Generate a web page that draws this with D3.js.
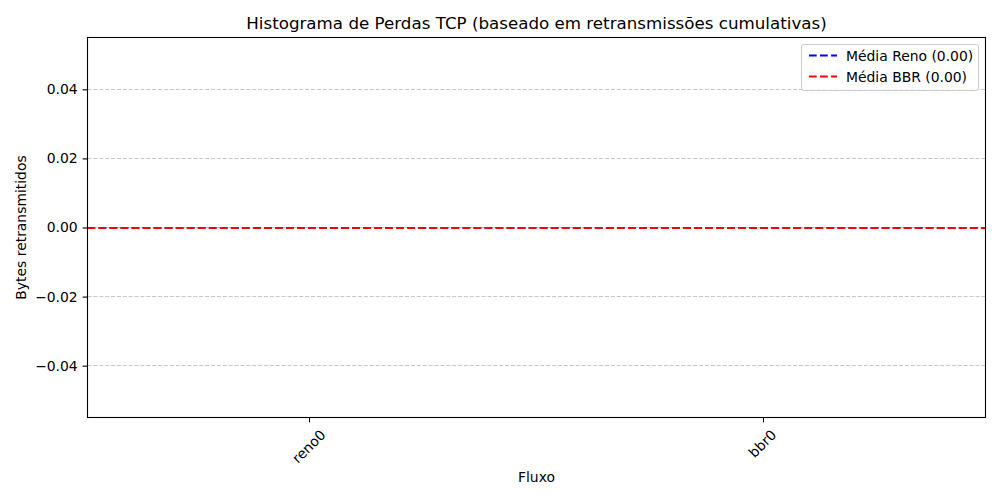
<!DOCTYPE html>
<html><head><meta charset="utf-8">
<script src="https://cdn.jsdelivr.net/npm/d3@7"></script>
<style>body{margin:0;background:#fff}svg{display:block;font-family:"DejaVu Sans",sans-serif}</style>
</head><body><svg id="c" width="1000" height="500"></svg>
<script>
const categories = ["reno0", "bbr0"];
const values = [0, 0];
const yTicks = [-0.04, -0.02, 0.00, 0.02, 0.04];
const meanReno = 0.00;
const meanBBR = 0.00;
const legendLabels = ["Média Reno (0.00)", "Média BBR (0.00)"];
const legendColors = ["blue", "red"];
const title = "Histograma de Perdas TCP (baseado em retransmissões cumulativas)";

const svg = d3.select("#c");
const L = 87.5, R = 985.5, T = 37.5, B = 417.5;
const x = d3.scaleLinear().domain([-0.49, 1.49]).range([L, R]);
const y = d3.scaleLinear().domain([-0.055, 0.055]).range([B, T]);
const snap = v => Math.round(v - 0.5) + 0.5;

// grid
svg.append("g").selectAll("line").data(yTicks).join("line")
  .attr("x1", L).attr("x2", R).attr("y1", d => snap(y(d))).attr("y2", d => snap(y(d)))
  .attr("stroke", "#b0b0b0").attr("stroke-opacity", 0.7).attr("stroke-width", 1.11)
  .attr("stroke-dasharray", "4.1,1.78");

// bars
svg.append("g").selectAll("rect").data(values).join("rect")
  .attr("x", (d, i) => x(i - 0.4)).attr("width", x(0.4) - x(-0.4))
  .attr("y", d => y(Math.max(0, d))).attr("height", d => Math.abs(y(d) - y(0)))
  .attr("fill", "#1f77b4");

// mean lines
[meanReno, meanBBR].forEach((m, i) => {
  const yy = Math.round(y(m));
  svg.append("line").attr("x1", L).attr("x2", R).attr("y1", yy).attr("y2", yy)
    .attr("stroke", legendColors[i]).attr("stroke-width", 2.08).attr("stroke-dasharray", "7.7,3.33");
});

// spines
svg.append("rect").attr("x", L).attr("y", T).attr("width", R - L).attr("height", B - T)
  .attr("fill", "none").attr("stroke", "#000").attr("stroke-width", 1.1);

// y axis
const yAxis = svg.append("g").attr("transform", `translate(${L},0)`)
  .call(d3.axisLeft(y).tickValues(yTicks).tickSize(4.9).tickPadding(4.9)
    .tickFormat(d => (d < 0 ? "\u2212" : "") + Math.abs(d).toFixed(2)));
yAxis.select(".domain").remove();
yAxis.selectAll("text").attr("font-size", 13.9).attr("fill", "#000").attr("font-family", "DejaVu Sans");
yAxis.selectAll("line").attr("stroke-width", 1.1);

// x axis
const xg = svg.append("g").attr("transform", `translate(0,${B})`);
xg.selectAll("line").data(categories).join("line")
  .attr("x1", (d, i) => snap(x(i))).attr("x2", (d, i) => snap(x(i))).attr("y1", 0).attr("y2", 4.9)
  .attr("stroke", "#000").attr("stroke-width", 1.1);
xg.selectAll("text").data(categories).join("text")
  .attr("font-size", 13.9).attr("text-anchor", "middle").attr("dominant-baseline", "central")
  .text(d => d)
  .each(function (d, i) {
    const w = this.getComputedTextLength();
    const h = 13.9 * 1.0;
    const bh = (w + h) * Math.SQRT1_2;
    const cx = x(i) - 1, cy = 4.9 + 4.9 + bh / 2;
    d3.select(this).attr("x", cx).attr("y", cy).attr("transform", `rotate(-45,${cx},${cy})`);
  });

// labels
svg.append("text").attr("x", (L + R) / 2).attr("y", 482).attr("text-anchor", "middle")
  .attr("font-size", 13.9).text("Fluxo");
svg.append("text").attr("transform", `translate(26,${(T + B) / 2}) rotate(-90)`)
  .attr("text-anchor", "middle").attr("font-size", 13.9).text("Bytes retransmitidos");
svg.append("text").attr("x", (L + R) / 2).attr("y", 29).attr("text-anchor", "middle")
  .attr("font-size", 16.7).text(title);

// legend
const lg = svg.append("g");
lg.append("rect").attr("x", 801.5).attr("y", 44.5).attr("width", 177).attr("height", 46).attr("rx", 2.5)
  .attr("fill", "#fff").attr("fill-opacity", 0.8).attr("stroke", "#cccccc").attr("stroke-width", 1);
legendLabels.forEach((lab, i) => {
  const yy = 55.5 + i * 21;
  lg.append("line").attr("x1", 809).attr("x2", 837).attr("y1", yy).attr("y2", yy)
    .attr("stroke", legendColors[i]).attr("stroke-width", 2.08).attr("stroke-dasharray", "7.7,3.33");
  lg.append("text").attr("x", 846).attr("y", yy + 5).attr("font-size", 13.9).text(lab);
});
</script></body></html>
